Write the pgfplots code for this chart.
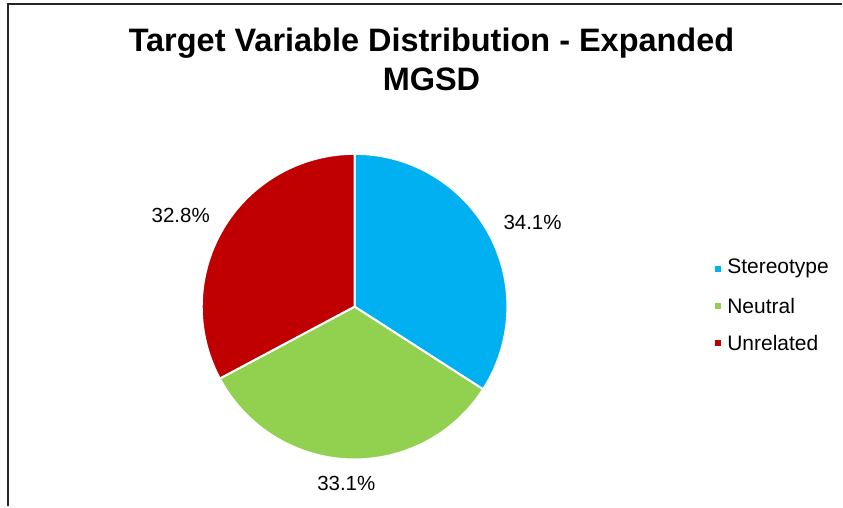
\documentclass[border=0pt]{standalone}
\usepackage{pgfplots}
\pgfplotsset{compat=1.18}
\usepackage{pgfplotstable}
\usepackage{fontspec}
\setmainfont{Liberation Sans}
\definecolor{stereo}{HTML}{00B0F0}
\definecolor{neutral}{HTML}{92D050}
\definecolor{unrel}{HTML}{C00000}

\pgfplotstableread{
label value colour
Stereotype 34.1 stereo
Neutral 33.1 neutral
Unrelated 32.8 unrel
}\piedata

\tikzset{
  pielabel/.style={font=\fontsize{20.5}{24}\selectfont, inner sep=0pt},
  legendtext/.style={font=\fontsize{21}{24}\selectfont, inner sep=0pt, anchor=west},
}

\begin{document}
\begin{tikzpicture}
\begin{axis}[hide axis, x=1pt, y=1pt, xmin=0, xmax=843, ymin=0, ymax=507, clip=false]
\path (axis cs:0,0) rectangle (axis cs:843,507);
% chart frame (only left and top edges are visible)
\draw[line width=2pt, black!85] (axis cs:8.5,0) -- (axis cs:8.5,502.5) -- (axis cs:843,502.5);
\node[font=\bfseries\fontsize{32.5}{39}\selectfont, align=center, anchor=base, inner sep=0pt]
  at (axis cs:432,416) {Target Variable Distribution - Expanded\\MGSD};

\pgfmathsetmacro\start{90}
\pgfplotstablegetrowsof{\piedata}
\pgfmathtruncatemacro\last{\pgfplotsretval-1}
\pgfplotsforeachungrouped \i in {0,...,\last}{
  \pgfplotstablegetelem{\i}{value}\of\piedata \let\val\pgfplotsretval
  \pgfplotstablegetelem{\i}{colour}\of\piedata \let\col\pgfplotsretval
  \pgfplotstablegetelem{\i}{label}\of\piedata \let\lab\pgfplotsretval
  \pgfmathsetmacro\stop{\start-3.6*\val}
  \pgfmathsetmacro\mid{(\start+\stop)/2}
  \pgfmathsetmacro\px{355+203*cos(\mid)}
  \pgfmathsetmacro\py{200+177*sin(\mid)}
  \pgfmathsetmacro\ly{238-37*\i}
  \edef\temp{
    \noexpand\fill[\col, draw=white, line width=2pt, line join=round] (axis cs:355,200) -- ++(\start:153pt)
      arc[start angle=\start, end angle=\stop, radius=153pt] -- cycle;
    \noexpand\node[pielabel] at (axis cs:\px,\py) {\val\noexpand\%};
    \noexpand\fill[\col] (axis cs:718.5,\ly) ++(-3pt,-3pt) rectangle ++(6pt,6pt);
    \noexpand\node[legendtext] at (axis cs:728,\ly) {\lab};
  }
  \temp
  \let\start\stop
}
\end{axis}
\end{tikzpicture}
\end{document}
